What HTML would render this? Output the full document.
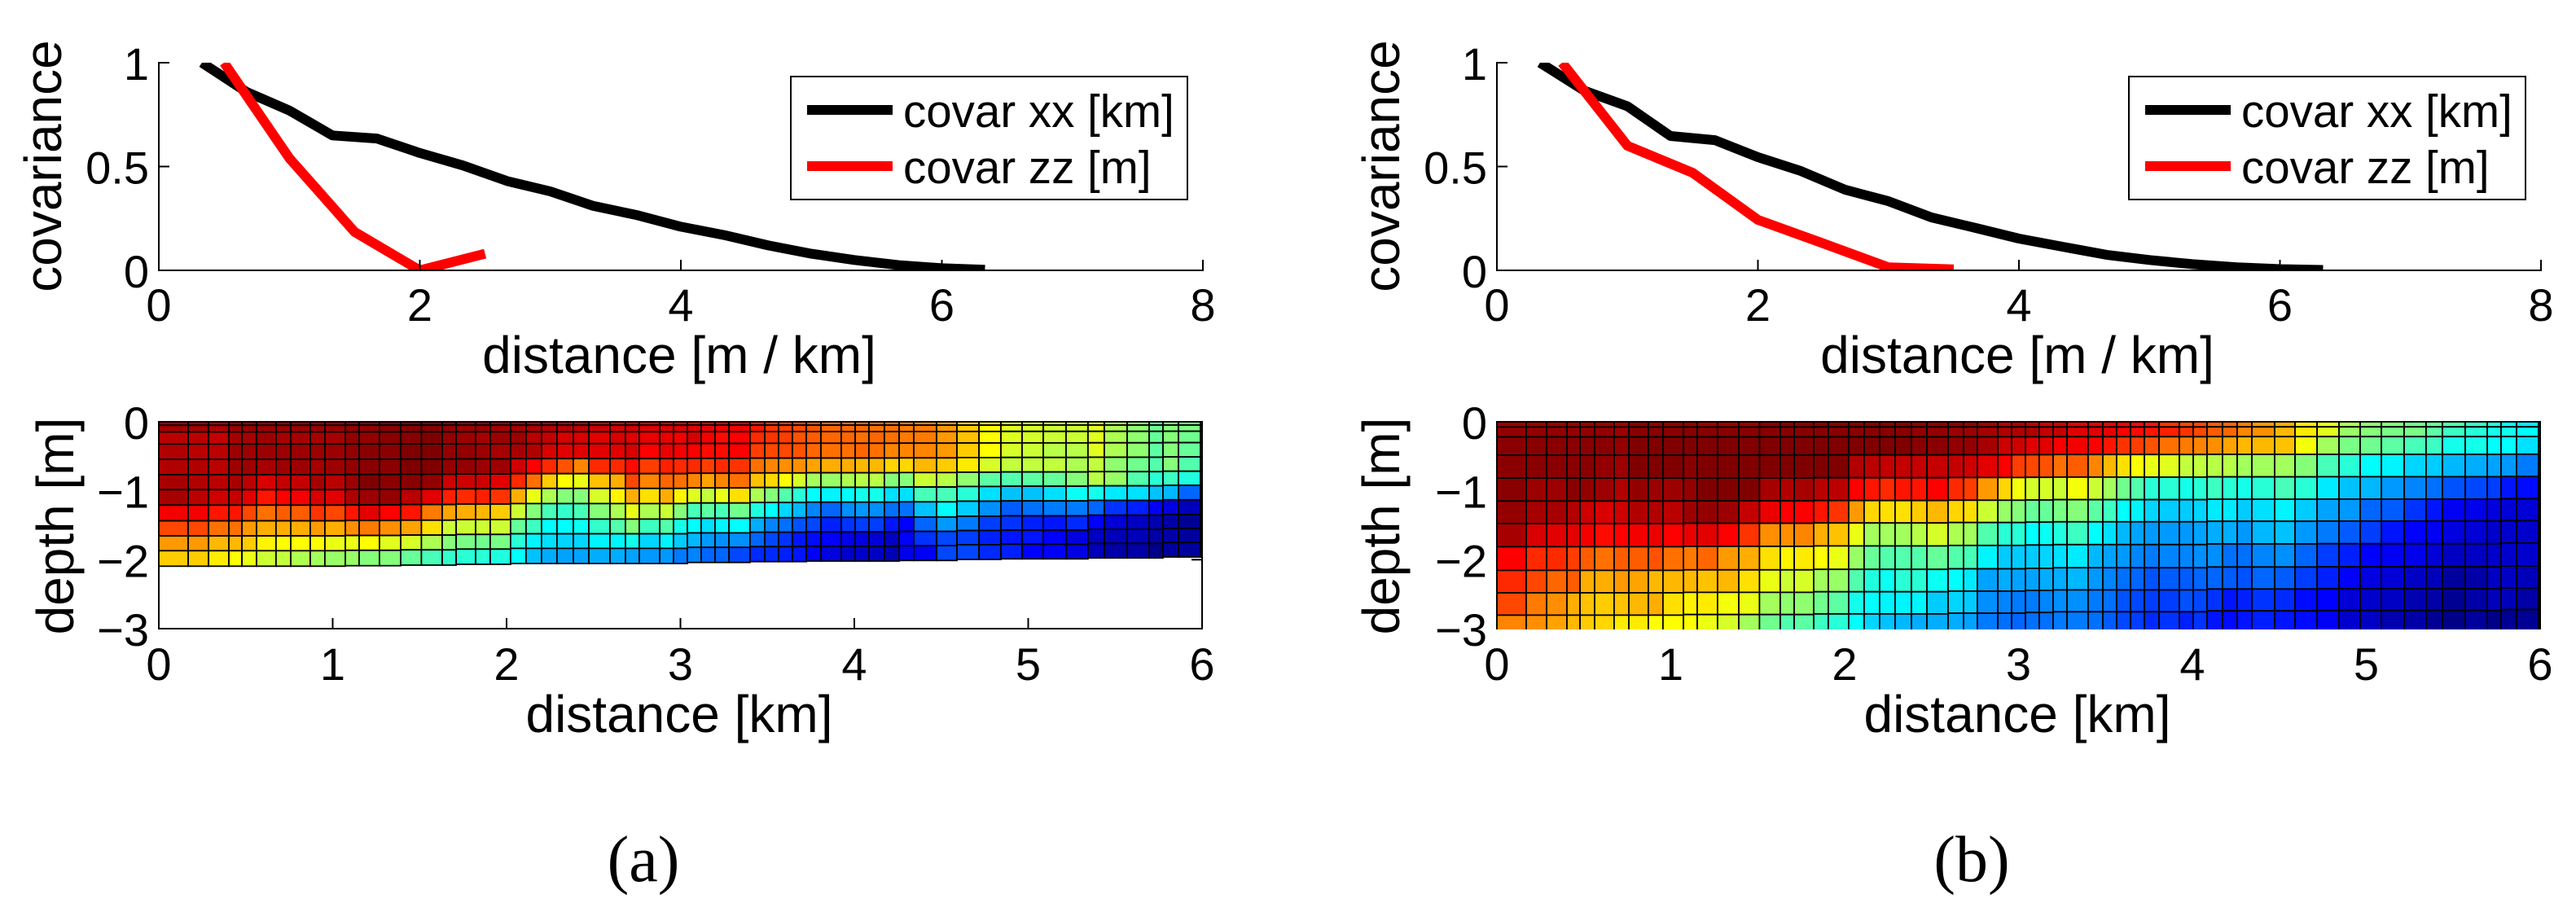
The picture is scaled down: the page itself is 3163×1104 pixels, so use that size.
<!DOCTYPE html>
<html lang="en">
<head>
<meta charset="utf-8">
<title>Covariance and depth panels</title>
<style>
html,body{margin:0;padding:0;background:#fff;}
svg{display:block;}
text{font-family:"Liberation Sans",sans-serif;fill:#000;}
.serif{font-family:"Liberation Serif",serif;}
</style>
</head>
<body>
<svg id="figure" xmlns="http://www.w3.org/2000/svg" width="3163" height="1104" viewBox="0 0 3163 1104">
<rect x="0" y="0" width="3163" height="1104" fill="#fff"/>
<text class="serif" x="790" y="1082" font-size="80" text-anchor="middle">(a)</text>
<text class="serif" x="2421" y="1082" font-size="80" text-anchor="middle">(b)</text>
</svg>
<script>
const covarTickX = [0, 2, 4, 6, 8];
const covarTickY = [0, 0.5, 1];
const depthTickX = [0, 1, 2, 3, 4, 5, 6];
const depthTickY = [0, -1, -2, -3];

const xxDistanceA = [0.33,0.67,1,1.33,1.67,2,2.33,2.67,3,3.33,3.67,4,4.33,4.67,5,5.33,5.67,6,6.33];
const xxCovarA = [1,0.86,0.77,0.65,0.635,0.565,0.505,0.43,0.38,0.31,0.265,0.21,0.17,0.12,0.08,0.05,0.025,0.01,0.003];
const zzDistanceA = [0.5,1,1.5,2,2.5];
const zzCovarA = [1,0.54,0.185,0,0.08];

const xxDistanceB = [0.33,0.67,1,1.33,1.67,2,2.33,2.67,3,3.33,3.67,4,4.33,4.67,5,5.33,5.67,6,6.33];
const xxCovarB = [1,0.865,0.79,0.647,0.627,0.545,0.478,0.388,0.333,0.255,0.204,0.153,0.114,0.075,0.05,0.03,0.015,0.006,0.002];
const zzDistanceB = [0.5,1,1.5,2,2.5,3,3.5];
const zzCovarB = [1,0.6,0.47,0.243,0.13,0.015,0.005];

const columnEdgesKm = [0,.169,.286,.403,.478,.562,.674,.759,.871,.955,1.073,1.152,1.269,1.391,1.51,1.63,1.71,1.822,1.906,2.023,2.112,2.201,2.29,2.384,2.473,2.595,2.684,2.763,2.881,2.96,3.04,3.119,3.199,3.279,3.4,3.485,3.564,3.644,3.724,3.808,3.925,4.005,4.084,4.173,4.258,4.342,4.473,4.59,4.717,4.843,4.965,5.087,5.218,5.344,5.438,5.569,5.696,5.775,5.864,5.991,6];
const layerFractions = [0,.024,.07,.154,.26,.366,.47,.577,.686,.79,.893,1];

const bottomDepthA = [2.094,2.094,2.094,2.094,2.094,2.094,2.094,2.094,2.094,2.094,2.087,2.087,2.087,2.079,2.079,2.079,2.067,2.067,2.067,2.055,2.055,2.055,2.055,2.055,2.055,2.055,2.055,2.055,2.055,2.055,2.04,2.04,2.04,2.04,2.028,2.028,2.028,2.028,2.02,2.02,2.02,2.02,2.02,2.02,2.012,2.012,2.012,1.996,1.996,1.988,1.988,1.988,1.988,1.975,1.975,1.975,1.975,1.96,1.96,1.96];
const bottomDepthB = [3.14,3.14,3.14,3.14,3.14,3.14,3.14,3.14,3.14,3.14,3.13,3.13,3.13,3.13,3.13,3.13,3.13,3.12,3.12,3.12,3.12,3.12,3.12,3.12,3.12,3.108,3.108,3.108,3.108,3.108,3.097,3.097,3.086,3.086,3.086,3.086,3.086,3.086,3.086,3.086,3.086,3.086,3.07,3.07,3.07,3.07,3.07,3.07,3.064,3.064,3.064,3.064,3.064,3.064,3.064,3.064,3.064,3.05,3.05,3.05];

const fieldA = [
[96,96,95,97,97,97,97,97,97,97,98,98,99,99,99,98,97,97,96,96,95,95,94,94,92,91,92,90,91,90,89,88,88,88,84,82,81,80,79,77,76,77,77,76,75,74,72,67,62,59,58,57,57,59,54,51,47,50,48,43],
[96,96,95,97,97,97,97,97,97,97,98,98,99,99,99,98,97,97,96,96,95,94,94,93,92,91,91,90,90,90,90,89,88,88,85,82,81,80,79,77,77,77,76,76,75,75,72,67,62,59,58,57,57,59,54,51,47,50,49,44],
[94,94,93,96,96,97,96,96,96,96,98,98,99,99,100,98,97,96,97,97,94,93,91,91,90,91,90,89,89,88,91,88,86,87,83,82,81,79,78,77,77,76,77,76,75,75,72,68,62,59,58,57,57,59,54,51,47,50,48,44],
[95,94,94,97,97,97,97,97,97,97,98,99,99,100,100,98,98,97,96,96,95,91,90,90,90,90,91,87,89,88,87,86,86,87,81,80,80,79,77,76,76,77,76,74,74,74,72,67,62,58,57,55,55,59,54,51,46,50,47,40],
[95,95,94,97,97,96,97,97,96,97,98,99,99,100,100,98,98,97,97,92,87,83,79,74,83,83,86,81,84,83,83,81,83,82,76,74,73,73,71,70,70,69,69,66,66,69,67,64,58,56,56,56,54,56,51,48,45,50,45,38],
[96,95,94,96,94,91,93,93,96,94,97,100,99,99,98,92,92,92,90,83,76,67,62,60,68,70,80,74,77,76,74,71,74,76,68,66,62,58,53,52,54,55,55,50,50,57,55,51,46,45,46,47,50,55,52,45,41,43,40,35],
[96,94,92,93,90,85,87,88,91,90,95,97,98,94,90,84,83,84,82,70,60,54,50,50,58,63,70,65,70,63,59,56,60,65,54,50,45,41,37,36,37,39,39,34,34,44,44,41,34,31,31,34,38,39,35,34,31,30,22,20],
[88,88,85,85,80,76,78,78,82,80,85,90,87,85,75,71,70,69,67,57,50,44,42,44,50,54,60,54,57,50,44,46,44,48,40,37,33,30,25,22,26,27,26,23,23,31,37,32,26,21,23,24,24,22,17,15,11,9,5,5],
[80,80,76,76,72,70,70,70,72,70,73,75,73,71,65,57,57,57,57,47,43,37,37,38,42,45,50,43,45,39,37,34,36,37,29,25,23,20,19,15,17,18,18,14,12,22,27,24,18,17,15,14,16,12,8,6,4,3,1,1],
[72,72,69,69,67,63,62,62,62,60,60,62,59,58,54,50,49,48,49,41,36,34,33,33,36,36,39,33,36,32,30,27,26,26,22,19,17,14,13,12,10,9,8,6,12,17,19,18,15,14,14,12,9,6,5,5,3,3,2,2],
[67,67,64,62,60,57,56,54,53,52,52,50,50,47,44,42,41,41,40,37,31,29,28,28,29,29,28,27,27,24,25,22,22,19,16,16,15,14,12,9,7,7,6,5,10,11,19,19,16,15,12,12,9,5,3,3,0,2,2,2]
];
const fieldB = [
[97,97,97,97,97,97,96,99,98,98,98,97,97,97,99,99,99,99,99,99,99,99,99,98,98,98,98,96,94,95,93,91,91,89,89,88,87,86,85,82,80,80,78,77,75,72,70,64,60,54,51,50,48,47,45,42,40,37,35,35],
[98,98,98,98,98,98,97,99,99,99,99,99,99,99,99,99,99,99,99,99,99,99,99,98,98,97,97,96,95,95,95,93,93,90,90,89,87,86,85,84,82,80,78,77,74,73,69,64,59,52,50,49,49,46,43,41,39,39,37,37],
[99,99,99,99,99,99,98,100,100,100,100,100,100,100,100,100,100,100,100,100,100,100,100,99,99,98,98,96,92,92,90,90,88,88,87,85,82,81,79,76,75,74,73,71,69,69,68,61,53,49,48,46,44,43,39,39,37,37,34,34],
[99,99,99,99,99,98,97,100,100,100,99,100,100,100,100,100,100,100,100,95,94,93,93,93,93,93,92,90,87,81,80,79,76,78,74,69,65,62,60,59,56,56,55,55,53,53,53,50,44,41,37,36,33,32,30,29,28,27,24,24],
[99,97,97,99,98,97,95,98,97,97,98,100,100,100,96,95,96,94,94,87,85,83,85,85,87,83,81,72,66,61,58,58,57,61,57,53,48,45,41,41,39,41,43,41,39,41,44,41,35,31,30,27,25,23,20,19,18,14,13,19],
[98,96,96,95,92,91,92,95,95,94,97,98,97,93,89,87,87,85,82,72,66,65,65,67,69,66,65,57,52,50,47,47,49,50,46,43,37,36,33,32,32,33,35,35,32,34,36,32,28,27,22,21,17,14,11,10,9,8,8,8],
[96,91,90,90,88,86,87,88,89,87,89,90,87,82,73,73,74,70,68,60,53,53,53,55,58,54,53,45,41,41,37,38,40,43,37,34,30,28,27,27,27,28,29,29,27,30,31,27,24,21,18,14,12,11,9,8,7,7,7,7],
[87,83,83,81,78,76,78,78,79,76,75,77,72,70,65,63,64,62,60,52,47,45,45,45,47,45,44,36,32,32,32,33,34,35,30,28,27,25,24,25,25,26,26,23,23,25,26,22,18,15,12,11,10,8,6,6,7,7,7,7],
[83,80,77,78,70,70,72,71,69,69,69,68,69,65,60,57,58,53,52,45,40,38,41,41,38,37,35,28,29,28,28,29,29,30,27,25,23,22,20,21,21,22,22,21,20,22,21,18,15,12,9,8,6,5,2,3,6,6,5,5],
[80,75,73,70,68,67,68,69,70,65,63,64,61,60,53,51,51,48,46,39,37,36,36,36,32,33,32,26,25,24,24,25,26,26,24,23,20,19,18,18,20,19,17,14,15,17,16,13,12,8,7,6,4,3,1,3,5,5,3,3],
[74,73,71,69,67,66,64,64,62,62,62,60,58,53,48,45,46,43,41,37,33,31,30,29,29,29,28,24,23,22,23,23,24,24,23,21,19,18,16,17,15,17,14,13,14,15,14,13,11,7,6,4,3,1,0,2,0,1,1,1]
];

const NS = 'http://www.w3.org/2000/svg';
const fig = document.getElementById('figure');

function make(tag, attrs, parent) {
  const e = document.createElementNS(NS, tag);
  for (const k in attrs) e.setAttribute(k, attrs[k]);
  (parent || fig).appendChild(e);
  return e;
}
function jet(v) {
  const stops = [[0,0,0,136],[12,0,0,255],[37,0,255,255],[62,255,255,0],[87,255,0,0],[100,128,0,0]];
  for (let i = 1; i < stops.length; i++) {
    if (v <= stops[i][0]) {
      const a = stops[i-1], b = stops[i], t = (v - a[0]) / (b[0] - a[0]);
      return 'rgb(' + [1,2,3].map(function(j){ return Math.round(a[j] + (b[j]-a[j])*t); }).join(',') + ')';
    }
  }
  return 'rgb(128,0,0)';
}
function tickLabel(x, y, str, anchor, size) {
  const t = make('text', {x: x, y: y, 'font-size': size || 56, 'text-anchor': anchor});
  t.textContent = str;
  
  
  return t;
}
function axisLine(x1, y1, x2, y2, w) {
  const l = make('line', {x1: x1, y1: y1, x2: x2, y2: y2, stroke: '#000', 'stroke-width': w || 2});
  
  
  return l;
}

function drawCovar(id, left, xxD, xxC, zzD, zzC) {
  const right = left + 1282, top = 77, bottom = 332;
  const sx = function(d){ return left + (d / 8) * (right - left); };
  const sy = function(v){ return bottom - v * (bottom - top); };
  const clip = make('clipPath', {id: 'clip-covar-' + id});
  make('rect', {x: left, y: top, width: right - left + 2, height: bottom - top}, clip);

  const curves = [[xxD, xxC, '#000', 'covar-xx-line'], [zzD, zzC, '#f00', 'covar-zz-line']];
  curves.forEach(function(c){
    const pts = c[0].map(function(d, i){ return sx(d).toFixed(1) + ',' + sy(c[1][i]).toFixed(1); }).join(' ');
    const p = make('polyline', {points: pts, fill: 'none', stroke: c[2], 'stroke-width': 12, 'stroke-linejoin': 'round', 'clip-path': 'url(#clip-covar-' + id + ')'});
    
    
  });

  axisLine(left, top - 1, left, bottom + 1);
  axisLine(left - 1, bottom, right + 1, bottom);
  covarTickX.forEach(function(d){
    if (d > 0) axisLine(sx(d), bottom, sx(d), bottom - 13);
    tickLabel(sx(d), 394, String(d), 'middle');
  });
  covarTickY.forEach(function(v){
    if (v > 0) axisLine(left, sy(v), left + 13, sy(v));
    tickLabel(left - 12, sy(v) + 21, String(v), 'end');
  });

  const xt = make('text', {x: left + 639, y: 458, 'font-size': 64, 'text-anchor': 'middle'});
  xt.textContent = 'distance [m / km]';
  
  
  const yt = make('text', {transform: 'translate(' + (left - 120) + ',204) rotate(-90)', 'font-size': 64, 'text-anchor': 'middle'});
  yt.textContent = 'covariance';
  
  

  const lg = make('g', {});
  
  
  const dx = left - 195;
  const box = make('rect', {x: 971 + dx, y: 94, width: 487, height: 151, fill: '#fff', stroke: '#000', 'stroke-width': 2}, lg);
  
  
  const entries = [['covar xx [km]', '#000', 135, 156], ['covar zz [m]', '#f00', 204, 225]];
  entries.forEach(function(en){
    const s = make('line', {x1: 991 + dx, x2: 1096 + dx, y1: en[2], y2: en[2], stroke: en[1], 'stroke-width': 12}, lg);
    
    
    const t = make('text', {x: 1109 + dx, y: en[3], 'font-size': 56.5}, lg);
    t.textContent = en[0];
    
    
  });
}

function drawDepth(id, left, field, bottoms, titleX) {
  const right = left + 1281, top = 518, bottom = 772;
  const sx = function(d){ return left + (d / 6) * (right - left); };
  const sy = function(z){ return top + (-z / 3) * (bottom - top); };

  axisLine(left, top - 1, left, bottom + 1);
  axisLine(left - 1, bottom, right + 1, bottom);
  axisLine(right, top - 1, right, bottom + 1);
  axisLine(left - 1, top, right + 1, top);
  depthTickX.forEach(function(d){
    if (d > 0 && d < 6) axisLine(sx(d), bottom, sx(d), bottom - 13);
    tickLabel(sx(d), 835, String(d), 'middle');
  });
  depthTickY.forEach(function(z){
    if (z < 0 && z > -3) { axisLine(left, sy(z), left + 13, sy(z)); axisLine(right, sy(z), right - 13, sy(z)); }
    tickLabel(left - 12, sy(z) + 21, String(z).replace('-', '\u2212'), 'end');
  });

  const clip = make('clipPath', {id: 'clip-depth-' + id});
  make('rect', {x: left - 1, y: top - 1, width: right - left + 2, height: bottom - top + 2}, clip);
  const g = make('g', {'clip-path': 'url(#clip-depth-' + id + ')'});
  
  
  field.forEach(function(row, r){
    row.forEach(function(v, c){
      const x0 = sx(columnEdgesKm[c]), x1 = sx(columnEdgesKm[c + 1]);
      const y0 = sy(-layerFractions[r] * bottoms[c]), y1 = sy(-layerFractions[r + 1] * bottoms[c]);
      const cell = make('rect', {x: x0.toFixed(1), y: y0.toFixed(1), width: (x1 - x0).toFixed(1), height: (y1 - y0).toFixed(1), fill: jet(v), stroke: '#000', 'stroke-width': 1.8}, g);
      
      
    });
  });

  const xt = make('text', {x: left + 639, y: 899, 'font-size': 64, 'text-anchor': 'middle'});
  xt.textContent = 'distance [km]';
  
  
  const yt = make('text', {transform: 'translate(' + titleX + ',646) rotate(-90)', 'font-size': 64, 'text-anchor': 'middle'});
  yt.textContent = 'depth [m]';
  
  
}

drawCovar('a', 195, xxDistanceA, xxCovarA, zzDistanceA, zzCovarA);
drawCovar('b', 1838, xxDistanceB, xxCovarB, zzDistanceB, zzCovarB);
drawDepth('a', 195, fieldA, bottomDepthA, 90);
drawDepth('b', 1838, fieldB, bottomDepthB, 1718);
</script>
</body>
</html>
